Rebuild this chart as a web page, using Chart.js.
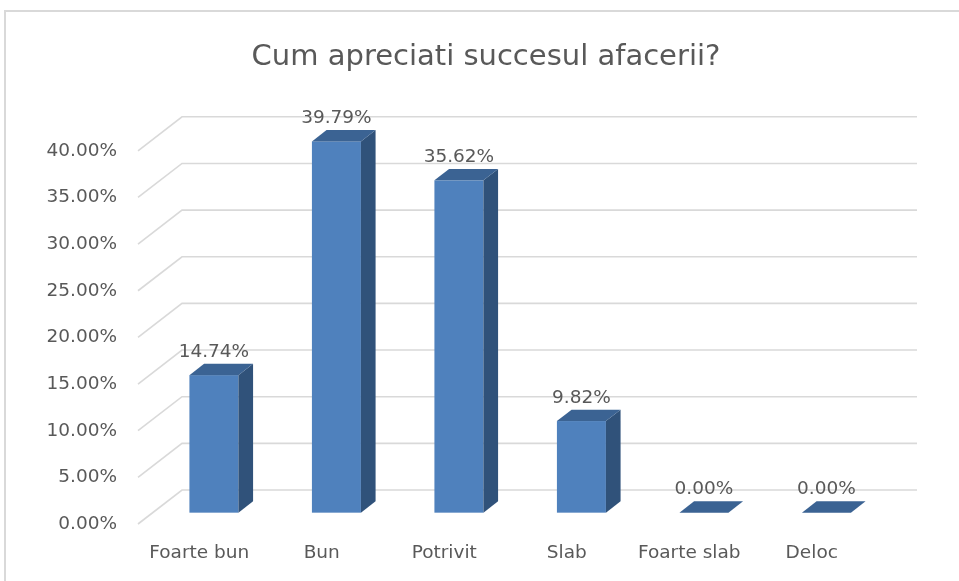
<!DOCTYPE html>
<html>
<head>
<meta charset="utf-8">
<title>Cum apreciati succesul afacerii?</title>
<script src="https://cdn.jsdelivr.net/npm/chart.js@4/dist/chart.umd.min.js"></script>
<style>
    html, body { margin: 0; padding: 0; background: #ffffff; }
    #chartBox { width: 959px; height: 581px; }
</style>
</head>
<body>
<div id="chartBox"><canvas id="successChart"></canvas></div>
<script>
const categories = ['Foarte bun', 'Bun', 'Potrivit', 'Slab', 'Foarte slab', 'Deloc'];
const percentages = [14.74, 39.79, 35.62, 9.82, 0.00, 0.00];
const tickValues = [0, 5, 10, 15, 20, 25, 30, 35, 40];

const textColor = '#595959';
const gridColor = '#d9d9d9';
const depthX = 44;   // floor depth, front edge to back wall
const depthY = -34;

document.addEventListener('DOMContentLoaded', function() {
    drawSuccessChart();
});

// grid lines drawn on the floor edge and the back wall
const wallGrid = {
    id: 'wallGrid',
    beforeDraw(chart) {
        const ctx = chart.ctx;
        ctx.save();
        ctx.fillStyle = '#ffffff';
        ctx.fillRect(0, 0, chart.width, chart.height);
        ctx.strokeStyle = gridColor;
        ctx.lineWidth = 2;
        ctx.strokeRect(5, 11, chart.width + 20, chart.height + 20);
        ctx.restore();
    },
    beforeDatasetsDraw(chart) {
        const ctx = chart.ctx;
        const area = chart.chartArea;
        const y = chart.scales.y;
        ctx.save();
        ctx.strokeStyle = gridColor;
        ctx.lineWidth = 1.6;
        y.ticks.forEach(function(t) {
            const py = y.getPixelForValue(t.value);
            ctx.beginPath();
            ctx.moveTo(area.left, py);
            ctx.lineTo(area.left + depthX, py + depthY);
            ctx.lineTo(area.right + depthX, py + depthY);
            ctx.stroke();
        });
        ctx.restore();
    }
};

// 3D boxes built from the bar elements the library placed
const boxBars = {
    id: 'boxBars',
    afterDatasetsDraw(chart) {
        const ctx = chart.ctx;
        const meta = chart.getDatasetMeta(0);
        const dx = depthX / 3;
        const dy = depthY / 3;
        ctx.save();
        meta.data.forEach(function(bar, i) {
            const p = bar.getProps(['x', 'y', 'base', 'width'], true);
            const xl = p.x - p.width / 2 + dx;
            const xr = p.x + p.width / 2 + dx;
            const top = p.y + dy;
            const bottom = p.base + dy;

            ctx.fillStyle = '#4f81bd';
            ctx.fillRect(xl, top, xr - xl, bottom - top);

            ctx.fillStyle = '#30527a';
            ctx.beginPath();
            ctx.moveTo(xr, top);
            ctx.lineTo(xr + dx, top + dy);
            ctx.lineTo(xr + dx, bottom + dy);
            ctx.lineTo(xr, bottom);
            ctx.closePath();
            ctx.fill();

            ctx.fillStyle = '#3b6393';
            ctx.beginPath();
            ctx.moveTo(xl, top);
            ctx.lineTo(xl + dx, top + dy);
            ctx.lineTo(xr + dx, top + dy);
            ctx.lineTo(xr, top);
            ctx.closePath();
            ctx.fill();

            ctx.fillStyle = textColor;
            ctx.font = '18.5px "DejaVu Sans"';
            ctx.textAlign = 'center';
            ctx.textBaseline = 'middle';
            ctx.fillText(percentages[i].toFixed(2) + '%', (xl + xr) / 2, top + dy - 12);
        });
        ctx.restore();
    }
};

function drawSuccessChart() {
    const ctx = document.getElementById('successChart').getContext('2d');
    new Chart(ctx, {
        type: 'bar',
        data: {
            labels: categories,
            datasets: [{
                label: 'Procent',
                data: percentages,
                backgroundColor: 'rgba(0, 0, 0, 0)',
                borderWidth: 0,
                barPercentage: 0.4,
                categoryPercentage: 1
            }]
        },
        options: {
            responsive: true,
            maintainAspectRatio: false,
            animation: false,
            layout: {
                padding: { left: 13, right: 0, top: 0, bottom: 0 }
            },
            scales: {
                x: {
                    grid: { display: false },
                    border: { display: false },
                    ticks: {
                        color: textColor,
                        padding: 10,
                        font: { family: 'DejaVu Sans', size: 18.5 }
                    },
                    afterFit: function(scale) { scale.height = 57; }
                },
                y: {
                    min: 0,
                    max: 40,
                    grid: { display: false },
                    border: { display: false },
                    afterBuildTicks: function(scale) {
                        scale.ticks = tickValues.map(v => ({ value: v }));
                    },
                    ticks: {
                        color: textColor,
                        padding: 13,
                        font: { family: 'DejaVu Sans', size: 18.5 },
                        callback: function(value) { return value.toFixed(2) + '%'; }
                    },
                    afterFit: function(scale) { scale.width = 125; }
                },
                // empty right axis, only reserves the space behind the back wall
                yRight: {
                    position: 'right',
                    display: true,
                    grid: { display: false },
                    border: { display: false },
                    ticks: { display: false },
                    afterFit: function(scale) { scale.width = 86; }
                }
            },
            plugins: {
                legend: { display: false },
                tooltip: { enabled: false },
                title: {
                    display: true,
                    text: 'Cum apreciati succesul afacerii?',
                    color: textColor,
                    font: { family: 'DejaVu Sans', size: 29, weight: 'normal' },
                    padding: { top: 40, bottom: 76 }
                }
            }
        },
        plugins: [wallGrid, boxBars]
    });
}
</script>
</body>
</html>
